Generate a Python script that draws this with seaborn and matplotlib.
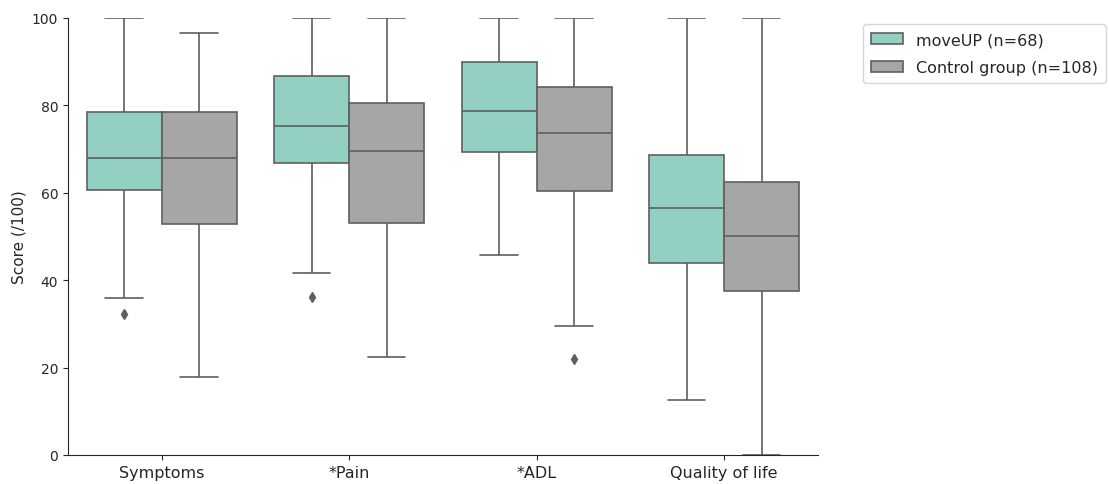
import numpy as np
import pandas as pd
import seaborn as sns
import matplotlib.pyplot as plt

# Box summaries (score /100)
categories = ["Symptoms", "*Pain", "*ADL", "Quality of life"]
groups = ["moveUP (n=68)", "Control group (n=108)"]

# moveUP
move_low = [35.9, 41.6, 45.7, 12.6]
move_q1 = [60.7, 66.9, 69.3, 43.9]
move_med = [68.0, 75.2, 78.8, 56.4]
move_q3 = [78.4, 86.7, 89.9, 68.7]
move_high = [100.0, 100.0, 100.0, 100.0]
move_out = [[32.2], [36.2], [], []]

# control group
ctrl_low = [17.8, 22.4, 29.5, 0.0]
ctrl_q1 = [52.8, 53.1, 60.4, 37.5]
ctrl_med = [68.0, 69.6, 73.6, 50.0]
ctrl_q3 = [78.4, 80.6, 84.1, 62.5]
ctrl_high = [96.6, 100.0, 100.0, 100.0]
ctrl_out = [[], [], [22.0], []]

colors = ["#93cfc2", "#a6a6a6"]
LINE_COLOR = "#5f5f5f"


def boxPoints(low, q1, med, q3, high, outliers):
    """
    Build a small set of scores whose quartiles and whiskers match a box
    :param: low, q1, med, q3, high: five-number summary read off the chart
    :param: outliers: list of flier values
    :return: list of scores
    """
    # 9 points -> 25/50/75 percentiles land on index 2/4/6
    first = outliers[0] if outliers else low
    pts = [first, low, q1, q1, med, med, q3, q3, high]
    return pts + outliers[1:]


rows = []
for i, cat in enumerate(categories):
    for v in boxPoints(move_low[i], move_q1[i], move_med[i], move_q3[i], move_high[i], move_out[i]):
        rows.append((cat, groups[0], v))
    for v in boxPoints(ctrl_low[i], ctrl_q1[i], ctrl_med[i], ctrl_q3[i], ctrl_high[i], ctrl_out[i]):
        rows.append((cat, groups[1], v))
df = pd.DataFrame(rows, columns=["domain", "group", "score"])

sns.set_style("ticks")
fig = plt.figure(figsize=(11.09, 4.85), dpi=100)
ax = fig.add_axes([0.0613, 0.0598, 0.6763, 0.9012])

sns.boxplot(data=df, x="domain", y="score", hue="group", order=categories,
            hue_order=groups, palette=colors, saturation=1, width=0.8,
            linewidth=1.2, linecolor=LINE_COLOR,
            flierprops=dict(marker="d", markersize=5.5, markerfacecolor=LINE_COLOR,
                            markeredgecolor=LINE_COLOR),
            ax=ax)

ax.set_ylim(0, 100)
ax.set_xlim(-0.5, 3.5)
ax.set_xlabel("")
ax.set_ylabel("Score (/100)", fontsize=11)
ax.tick_params(axis="x", labelsize=11.5)
ax.tick_params(axis="y", labelsize=10)
sns.despine(ax=ax)

ax.legend(loc="upper left", bbox_to_anchor=(1.06, 0.985), fontsize=11.5,
          frameon=True, borderaxespad=0, labelspacing=0.8, borderpad=0.5)

fig.savefig("out.png", dpi=100)
